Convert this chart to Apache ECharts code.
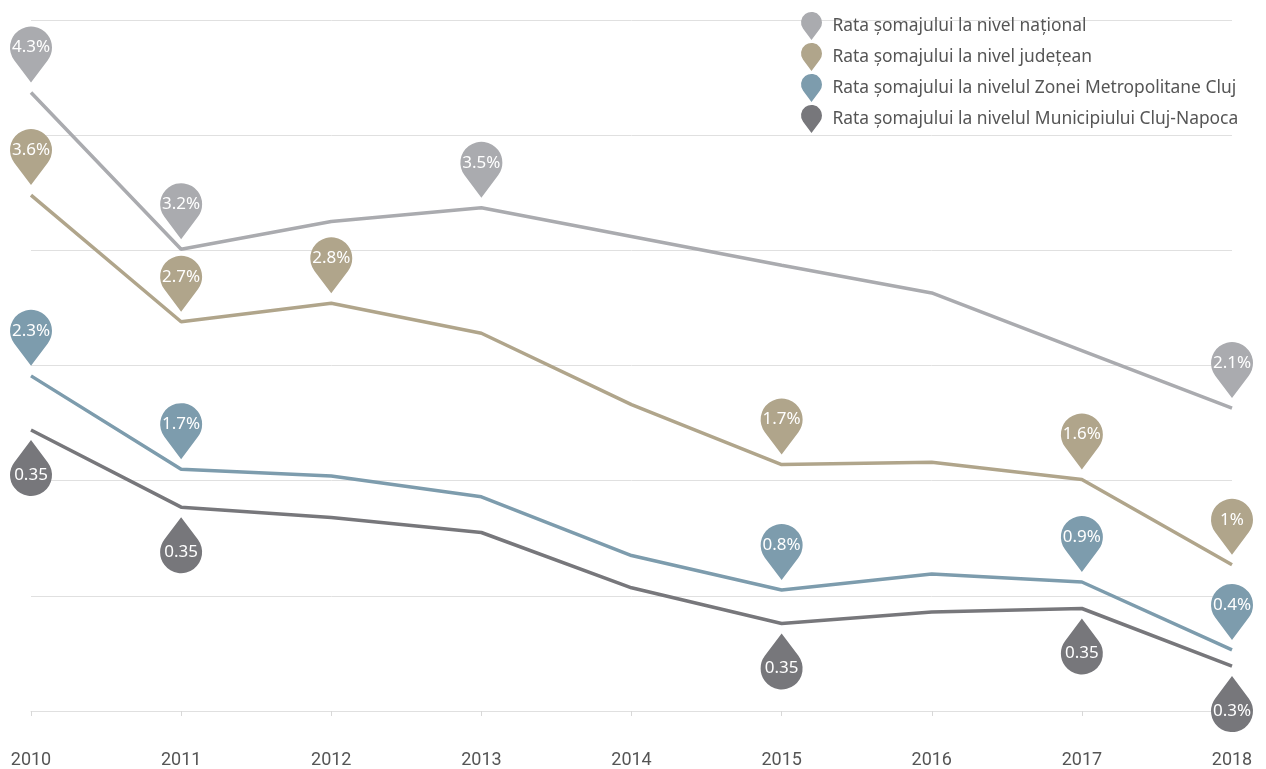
<!DOCTYPE html>
<html>
<head>
<meta charset="utf-8">
<title>Rata somajului</title>
<script src="https://cdn.jsdelivr.net/npm/echarts@6/dist/echarts.min.js"></script>
<style>
    html, body { margin: 0; padding: 0; background: #fff; }
    #chart { width: 1266px; height: 769px; }
</style>
</head>
<body>
<div id="chart"></div>
<script>

// Data
// ------------------------------

var years = ['2010', '2011', '2012', '2013', '2014', '2015', '2016', '2017', '2018'];

var seriesNames = [
    'Rata șomajului la nivel național',
    'Rata șomajului la nivel județean',
    'Rata șomajului la nivelul Zonei Metropolitane Cluj',
    'Rata șomajului la nivelul Municipiului Cluj-Napoca'
];

var nationalValues = [5.37, 4.01, 4.25, 4.37, 4.12, 3.87, 3.63, 3.13, 2.63];
var countyValues   = [4.48, 3.38, 3.54, 3.28, 2.66, 2.14, 2.16, 2.01, 1.27];
var metroValues    = [2.91, 2.10, 2.04, 1.86, 1.35, 1.05, 1.19, 1.12, 0.53];
var cityValues     = [2.44, 1.77, 1.68, 1.55, 1.07, 0.76, 0.86, 0.89, 0.39];

// Pin labels (null = no pin at that year)
var nationalPins = ['4.3%', '3.2%', null, '3.5%', null, null, null, null, '2.1%'];
var countyPins   = ['3.6%', '2.7%', '2.8%', null, null, '1.7%', null, '1.6%', '1%'];
var metroPins    = ['2.3%', '1.7%', null, null, null, '0.8%', null, '0.9%', '0.4%'];
var cityPins     = ['0.35', '0.35', null, null, null, '0.35', null, '0.35', '0.3%'];


// Setup
// ------------------------------

var colors = ['#aaabaf', '#b0a58b', '#7d9cad', '#77777b'];

// Balloon pin: circle r=21 with straight tangents to a tip 35px below centre
var pinPath = 'path://M21 56 L4.2 33.6 A21 21 0 1 1 37.8 33.6 Z';

var buildPins = function(values, pins) {
    var out = [];
    pins.forEach(function(text, i) {
        if (text !== null) {
            out.push({ coord: [i, values[i]], value: text });
        }
    });
    return out;
};

var makeSeries = function(idx, values, pins, below) {
    return {
        name: seriesNames[idx],
        type: 'line',
        data: values,
        symbol: 'none',
        smooth: false,
        lineStyle: { width: 3.5, color: colors[idx] },
        itemStyle: { color: colors[idx] },
        z: 2,
        markPoint: {
            symbol: pinPath,
            symbolSize: [42, 56],
            symbolRotate: below ? 180 : 0,
            symbolOffset: [0, below ? 38 : -38],
            silent: true,
            animation: false,
            itemStyle: { color: colors[idx] },
            label: {
                show: true,
                position: 'inside',
                color: '#fff',
                fontFamily: 'Noto Sans',
                fontSize: 17,
                offset: [0, below ? 7 : -7]
            },
            data: buildPins(values, pins)
        }
    };
};

var chart = echarts.init(document.getElementById('chart'));

chart.setOption({
    animation: false,
    color: colors,

    grid: {
        left: 31,
        right: 34,
        top: 20,
        bottom: 58
    },

    legend: {
        orient: 'vertical',
        left: 796,
        top: 7,
        icon: pinPath,
        itemWidth: 32,
        itemHeight: 28,
        itemGap: 3,
        textStyle: {
            color: '#555',
            fontFamily: 'Noto Sans',
            fontSize: 17.4
        },
        data: seriesNames
    },

    xAxis: {
        type: 'category',
        boundaryGap: false,
        data: years,
        axisLine: { lineStyle: { color: '#e0e0e0', width: 1 } },
        axisTick: { show: true, length: 5, lineStyle: { color: '#d8d8d8' } },
        axisLabel: {
            color: '#555',
            fontFamily: 'Roboto',
            fontSize: 18,
            margin: 40
        },
        splitLine: { show: false }
    },

    yAxis: {
        type: 'value',
        min: 0,
        max: 6,
        interval: 1,
        axisLine: { show: false },
        axisTick: { show: false },
        axisLabel: { show: false },
        splitLine: { lineStyle: { color: '#e0e0e0', width: 1 } }
    },

    series: [
        makeSeries(0, nationalValues, nationalPins, false),
        makeSeries(1, countyValues, countyPins, false),
        makeSeries(2, metroValues, metroPins, false),
        makeSeries(3, cityValues, cityPins, true)
    ]
});

window.addEventListener('resize', function() {
    chart.resize();
});
</script>
</body>
</html>
